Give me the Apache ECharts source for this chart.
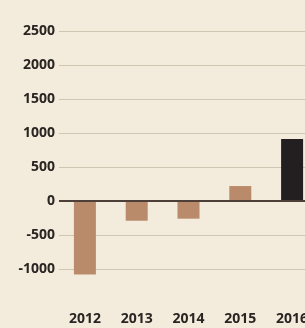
<!DOCTYPE html>
<html>
<head>
<meta charset="utf-8">
<script src="https://cdn.jsdelivr.net/npm/echarts@6/dist/echarts.min.js"></script>
<style>
  html, body { margin: 0; padding: 0; background: #f3ecdd; overflow: hidden; }
  /* the 2016 column runs off the right edge in the original, so the canvas is wider than the window */
  #chart { width: 318px; height: 328px; }
</style>
</head>
<body>
<div id="chart"></div>
<script>
// Data
const years = ["2012", "2013", "2014", "2015", "2016"]
const values = [-1080, -290, -260, 220, 910]
const barColors = ["#b98b6b", "#b98b6b", "#b98b6b", "#b98b6b", "#231e20"]
const yTicks = [-1500, 2500, 500] // min, max, step

const chart = echarts.init(document.getElementById("chart"))

const gridColor = "#cfc5b1"
// first split line (-1500) sits at the bottom edge and is not drawn
const splitColors = ["rgba(0,0,0,0)"].concat(Array(8).fill(gridColor))

const labelFont = {
  color: "#2a2422",
  fontFamily: "Noto Sans",
  fontWeight: "bold",
  fontSize: 14,
}

chart.setOption({
  backgroundColor: "#f3ecdd",
  grid: { left: 59, top: 31, right: 0, height: 272 },
  xAxis: {
    type: "category",
    data: years,
    axisLine: { show: false, onZero: false },
    axisTick: { show: false },
    axisLabel: Object.assign({ margin: 9 }, labelFont),
    splitLine: { show: false },
  },
  yAxis: {
    type: "value",
    min: yTicks[0],
    max: yTicks[1],
    interval: yTicks[2],
    axisLine: { show: false },
    axisTick: { show: false },
    axisLabel: Object.assign(
      {
        margin: 4,
        formatter: (v) => (v < -1000 ? "" : String(v)),
      },
      labelFont
    ),
    splitLine: { lineStyle: { color: splitColors, width: 1 } },
  },
  series: [
    {
      type: "bar",
      barWidth: 22,
      data: values.map((v, i) => ({ value: v, itemStyle: { color: barColors[i] } })),
      markLine: {
        silent: true,
        symbol: "none",
        label: { show: false },
        lineStyle: { color: "#4e4038", width: 2, type: "solid" },
        data: [{ yAxis: 0 }],
      },
    },
  ],
})
</script>
</body>
</html>
